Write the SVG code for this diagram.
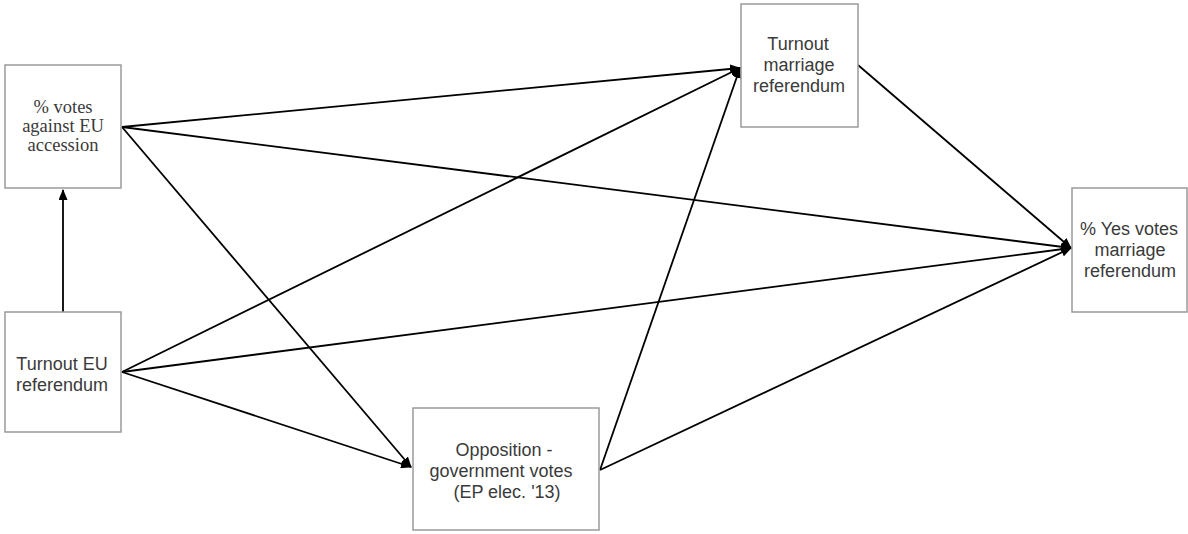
<svg xmlns="http://www.w3.org/2000/svg" width="1188" height="534" viewBox="0 0 1188 534">
  <defs>
    <marker id="arr" markerUnits="userSpaceOnUse" markerWidth="11" markerHeight="9" refX="10" refY="4.5" orient="auto">
      <path d="M0,0 L11,4.5 L0,9 z" fill="#000"/>
    </marker>
    <style>
      .box { fill: #fff; stroke: #9a9a9a; stroke-width: 1.5; }
      .sans { font-family: "Liberation Sans", Arial, sans-serif; font-size: 18px; fill: #3a3a3a; text-anchor: middle; }
      .serif { font-family: "Liberation Serif", "Times New Roman", serif; font-size: 18.5px; fill: #3a3a3a; text-anchor: middle; }
      .edge { stroke: #000; stroke-width: 1.8; fill: none; marker-end: url(#arr); }
    </style>
  </defs>
  <rect width="1188" height="534" fill="#fff"/>

  <g id="edges">
    <line class="edge" x1="122" y1="127" x2="740" y2="68"/>
    <line class="edge" x1="122" y1="127" x2="1071" y2="248"/>
    <line class="edge" x1="122" y1="127" x2="411" y2="467"/>
    <line class="edge" x1="63" y1="312" x2="63" y2="190"/>
    <line class="edge" x1="122" y1="372" x2="740" y2="68"/>
    <line class="edge" x1="122" y1="372" x2="1071" y2="248"/>
    <line class="edge" x1="122" y1="372" x2="411" y2="467"/>
    <line class="edge" x1="600" y1="470" x2="740" y2="68"/>
    <line class="edge" x1="600" y1="470" x2="1071" y2="248"/>
    <line class="edge" x1="858" y1="65" x2="1071" y2="248"/>
  </g>

  <g id="node-votes-against-eu">
    <rect class="box" x="5" y="65" width="116" height="123"/>
    <text class="serif" x="63" y="113">% votes</text>
    <text class="serif" x="63" y="132">against EU</text>
    <text class="serif" x="63" y="151">accession</text>
  </g>

  <g id="node-turnout-eu">
    <rect class="box" x="5" y="312" width="116" height="120"/>
    <text class="sans" x="62" y="370">Turnout EU</text>
    <text class="sans" x="62" y="391">referendum</text>
  </g>

  <g id="node-opposition">
    <rect class="box" x="413" y="408" width="186" height="122"/>
    <text class="sans" x="504" y="456">Opposition -</text>
    <text class="sans" x="501" y="477">government votes</text>
    <text class="sans" x="507" y="498">(EP elec. '13)</text>
  </g>

  <g id="node-turnout-marriage">
    <rect class="box" x="741" y="4" width="117" height="123"/>
    <text class="sans" x="798" y="50">Turnout</text>
    <text class="sans" x="799" y="71">marriage</text>
    <text class="sans" x="799" y="92">referendum</text>
  </g>

  <g id="node-yes-votes">
    <rect class="box" x="1072" y="188" width="115" height="124"/>
    <text class="sans" x="1129" y="235">% Yes votes</text>
    <text class="sans" x="1130" y="256">marriage</text>
    <text class="sans" x="1130" y="277">referendum</text>
  </g>
</svg>
